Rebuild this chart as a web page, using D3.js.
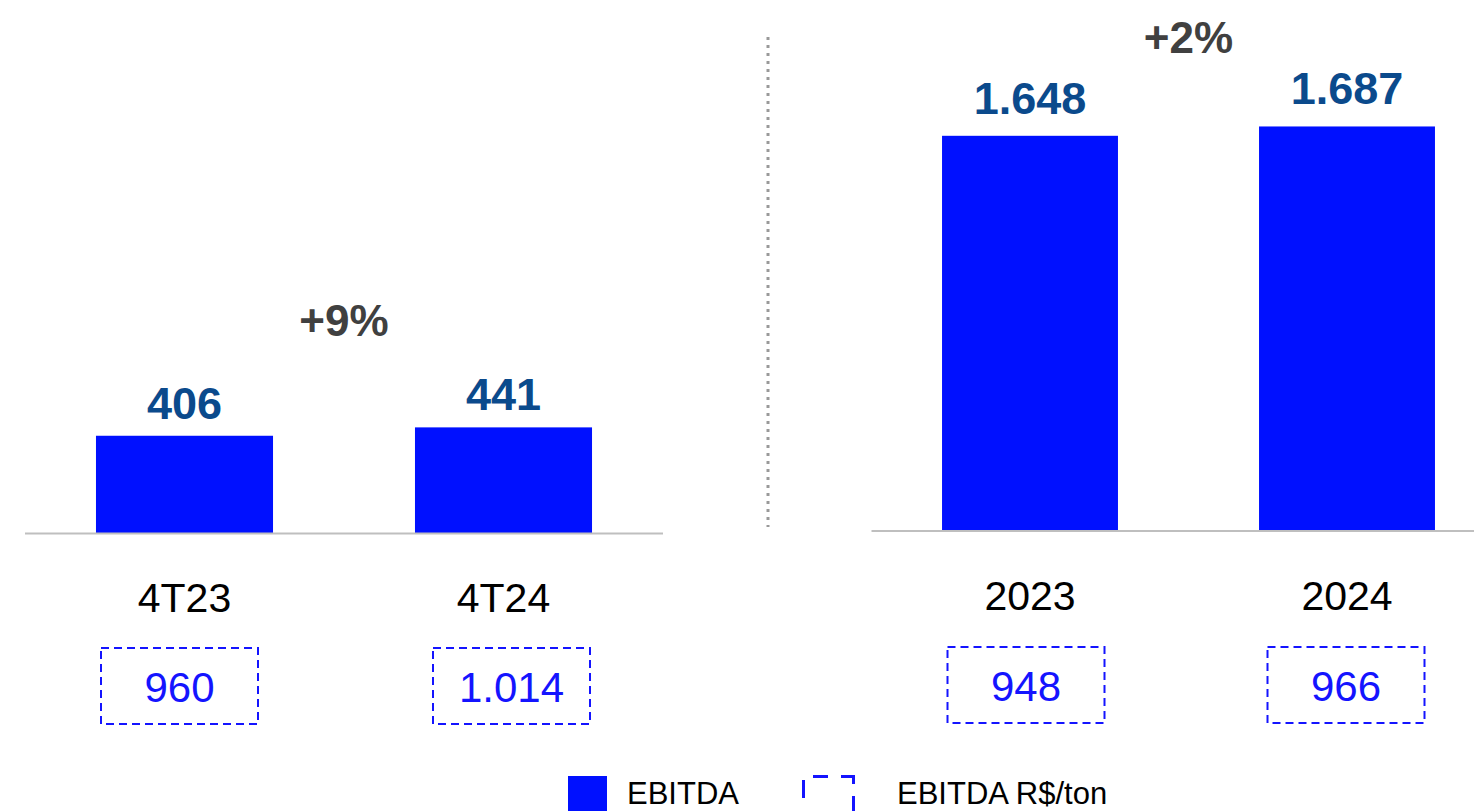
<!DOCTYPE html>
<html>
<head>
<meta charset="utf-8">
<script src="https://cdn.jsdelivr.net/npm/d3@7"></script>
<style>
  html, body { margin: 0; padding: 0; background: #ffffff; }
  svg { display: block; }
  text { font-family: "Liberation Sans", Arial, sans-serif; }
</style>
</head>
<body>
<div id="chart"></div>
<script>
// ---- Data ----
const quarterCategories = ["4T23", "4T24"];
const quarterEbitda = [406, 441];
const quarterEbitdaPerTon = [960, 1014];
const quarterChange = "+9%";

const yearCategories = ["2023", "2024"];
const yearEbitda = [1648, 1687];
const yearEbitdaPerTon = [948, 966];
const yearChange = "+2%";

const legendLabels = ["EBITDA", "EBITDA R$/ton"];

// ---- Setup ----
const W = 1474, H = 811;
const barColor = "#0010ff";
const valueColor = "#0b4a8c";
const boxColor = "#1414ff";
const changeColor = "#404040";

const locale = d3.formatLocale({ decimal: ",", thousands: ".", grouping: [3], currency: ["R$", ""] });
const fmt = locale.format(",d");

const svg = d3.select("#chart").append("svg")
  .attr("width", W).attr("height", H);

const panels = [
  { cats: quarterCategories, vals: quarterEbitda, perTon: quarterEbitdaPerTon, change: quarterChange,
    range: [25, 663], lineEnd: 663, baseline: 533, valueGap: 17, changeGap: 91, catY: 612, boxTop: 648,
    boxShift: [-5, 8] },
  { cats: yearCategories, vals: yearEbitda, perTon: yearEbitdaPerTon, change: yearChange,
    range: [871.5, 1505.5], lineEnd: 1474, baseline: 530.5, valueGap: 22, changeGap: 73, catY: 610, boxTop: 647,
    boxShift: [-4, -1] }
];

const boxW = 157, boxH = 76;

panels.forEach(p => {
  const x = d3.scaleBand().domain(p.cats).range(p.range)
    .paddingInner(0.445).paddingOuter(0.2225);
  const y = d3.scaleLinear().domain([0, 2000]).range([p.baseline, p.baseline - 479]);
  const g = svg.append("g");
  const data = p.cats.map((c, i) => ({ cat: c, val: p.vals[i], ton: p.perTon[i], shift: p.boxShift[i] }));
  const cx = d => x(d.cat) + x.bandwidth() / 2;

  // bars
  g.selectAll("rect.bar").data(data).join("rect")
    .attr("class", "bar")
    .attr("x", d => x(d.cat))
    .attr("width", x.bandwidth())
    .attr("y", d => y(d.val))
    .attr("height", d => y(0) - y(d.val))
    .attr("fill", barColor);

  // baseline
  g.append("line")
    .attr("x1", p.range[0]).attr("x2", p.lineEnd)
    .attr("y1", y(0) + 0.5).attr("y2", y(0) + 0.5)
    .attr("stroke", "#bfbfbf").attr("stroke-width", 2);

  // value labels
  g.selectAll("text.val").data(data).join("text")
    .attr("class", "val")
    .attr("x", cx)
    .attr("y", d => y(d.val) - p.valueGap)
    .attr("text-anchor", "middle")
    .attr("font-size", 45).attr("font-weight", "bold")
    .attr("fill", valueColor)
    .text(d => fmt(d.val));

  // change label
  const maxV = d3.max(p.vals);
  const midX = (x(p.cats[0]) + x(p.cats[1]) + x.bandwidth()) / 2;
  g.append("text")
    .attr("x", midX)
    .attr("y", y(maxV) - p.changeGap)
    .attr("text-anchor", "middle")
    .attr("font-size", 44).attr("font-weight", "bold")
    .attr("fill", changeColor)
    .text(p.change);

  // category labels
  g.selectAll("text.cat").data(data).join("text")
    .attr("class", "cat")
    .attr("x", cx)
    .attr("y", p.catY)
    .attr("text-anchor", "middle")
    .attr("font-size", 41)
    .attr("fill", "#000")
    .text(d => d.cat);

  // dashed boxes
  g.selectAll("rect.box").data(data).join("rect")
    .attr("class", "box")
    .attr("x", d => cx(d) + d.shift - boxW / 2)
    .attr("y", p.boxTop)
    .attr("width", boxW)
    .attr("height", boxH)
    .attr("fill", "none")
    .attr("stroke", boxColor)
    .attr("stroke-width", 2)
    .attr("stroke-dasharray", "8,5");

  g.selectAll("text.ton").data(data).join("text")
    .attr("class", "ton")
    .attr("x", d => cx(d) + d.shift)
    .attr("y", p.boxTop + 54)
    .attr("text-anchor", "middle")
    .attr("font-size", 42)
    .attr("fill", boxColor)
    .text(d => fmt(d.ton));
});

// separator
svg.append("line")
  .attr("x1", 768).attr("x2", 768)
  .attr("y1", 37).attr("y2", 527)
  .attr("stroke", "#999999").attr("stroke-width", 3)
  .attr("stroke-dasharray", "3,5");

// legend
const lg = svg.append("g");
lg.append("rect").attr("x", 568).attr("y", 776).attr("width", 39).attr("height", 39).attr("fill", barColor);
lg.append("text").attr("x", 627).attr("y", 804).attr("font-size", 31).attr("fill", "#000").text(legendLabels[0]);
lg.append("path")
  .attr("d", "M813,776.5H828M841,776.5H853.5V784M853.5,796V815M803.5,780V798")
  .attr("fill", "none").attr("stroke", boxColor).attr("stroke-width", 3);
lg.append("text").attr("x", 897).attr("y", 804).attr("font-size", 31).attr("fill", "#000").text(legendLabels[1]);
</script>
</body>
</html>
